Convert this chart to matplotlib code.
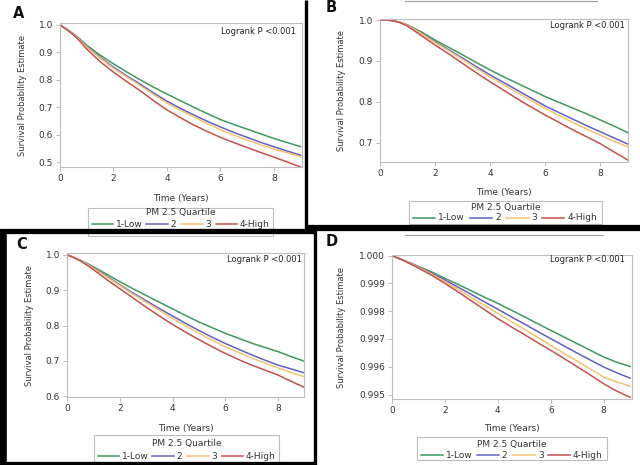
import matplotlib
matplotlib.use("Agg")
import matplotlib.pyplot as plt
from matplotlib.lines import Line2D
from matplotlib.patches import Rectangle

W, H = 640, 465

# ---------------- data ----------------
times = [0, 0.25, 0.5, 0.75, 1, 1.5, 2, 2.5, 3, 3.5, 4, 4.5, 5, 5.5, 6, 6.5, 7, 7.5, 8, 8.5, 9]
groups = ["1-Low", "2", "3", "4-High"]
colors = ["#3c9a5f", "#6060c4", "#f2c26e", "#c8504d"]

A_low = [1.0, 0.985, 0.968, 0.948, 0.926, 0.89, 0.858, 0.828, 0.80, 0.773, 0.748, 0.724, 0.70, 0.677, 0.655, 0.637, 0.62, 0.603, 0.586, 0.571, 0.556]
A_q2 = [1.0, 0.984, 0.966, 0.945, 0.922, 0.882, 0.846, 0.814, 0.784, 0.752, 0.722, 0.696, 0.672, 0.649, 0.628, 0.608, 0.59, 0.572, 0.556, 0.54, 0.525]
A_q3 = [1.0, 0.984, 0.966, 0.944, 0.92, 0.879, 0.842, 0.81, 0.779, 0.746, 0.715, 0.689, 0.665, 0.641, 0.618, 0.598, 0.58, 0.563, 0.548, 0.534, 0.52]
A_high = [1.0, 0.983, 0.964, 0.94, 0.912, 0.866, 0.828, 0.793, 0.76, 0.724, 0.69, 0.662, 0.635, 0.612, 0.59, 0.571, 0.553, 0.535, 0.518, 0.5, 0.482]

B_low = [1.0, 1.0, 0.998, 0.994, 0.988, 0.971, 0.951, 0.933, 0.915, 0.896, 0.878, 0.861, 0.845, 0.829, 0.813, 0.799, 0.785, 0.771, 0.756, 0.741, 0.725]
B_q2 = [1.0, 1.0, 0.998, 0.994, 0.987, 0.968, 0.947, 0.927, 0.907, 0.886, 0.866, 0.847, 0.828, 0.809, 0.79, 0.774, 0.758, 0.742, 0.727, 0.712, 0.697]
B_q3 = [1.0, 1.0, 0.998, 0.994, 0.987, 0.967, 0.945, 0.925, 0.904, 0.882, 0.861, 0.841, 0.822, 0.803, 0.784, 0.767, 0.75, 0.734, 0.719, 0.704, 0.69]
B_high = [1.0, 1.0, 0.998, 0.993, 0.985, 0.962, 0.939, 0.917, 0.894, 0.871, 0.849, 0.828, 0.807, 0.787, 0.768, 0.75, 0.732, 0.715, 0.698, 0.678, 0.658]

C_low = [1.0, 0.993, 0.985, 0.976, 0.966, 0.945, 0.924, 0.904, 0.885, 0.866, 0.847, 0.828, 0.81, 0.794, 0.778, 0.764, 0.75, 0.738, 0.726, 0.712, 0.699]
C_q2 = [1.0, 0.993, 0.984, 0.974, 0.963, 0.94, 0.915, 0.892, 0.87, 0.848, 0.827, 0.806, 0.786, 0.767, 0.749, 0.733, 0.717, 0.702, 0.688, 0.677, 0.666]
C_q3 = [1.0, 0.993, 0.984, 0.974, 0.962, 0.938, 0.913, 0.889, 0.866, 0.843, 0.82, 0.799, 0.778, 0.759, 0.74, 0.724, 0.708, 0.694, 0.68, 0.667, 0.655]
C_high = [1.0, 0.992, 0.983, 0.971, 0.958, 0.93, 0.904, 0.878, 0.852, 0.827, 0.803, 0.781, 0.76, 0.74, 0.721, 0.704, 0.688, 0.674, 0.66, 0.642, 0.625]

D_low = [1.0, 0.9999, 0.99981, 0.99971, 0.99961, 0.99941, 0.99918, 0.99896, 0.99873, 0.9985, 0.99828, 0.99804, 0.9978, 0.99755, 0.99731, 0.99707, 0.99683, 0.99659, 0.99635, 0.99616, 0.99601]
D_q2 = [1.0, 0.9999, 0.9998, 0.9997, 0.99959, 0.99936, 0.99912, 0.99886, 0.9986, 0.99833, 0.99807, 0.9978, 0.99754, 0.99727, 0.99701, 0.99675, 0.99649, 0.99624, 0.99599, 0.99578, 0.99559]
D_q3 = [1.0, 0.9999, 0.9998, 0.99969, 0.99958, 0.99933, 0.99906, 0.99878, 0.99849, 0.9982, 0.99792, 0.99763, 0.99735, 0.99706, 0.99677, 0.99648, 0.9962, 0.99591, 0.99563, 0.99545, 0.9953]
D_high = [1.0, 0.9999, 0.99979, 0.99967, 0.99955, 0.99929, 0.999, 0.99869, 0.99837, 0.99805, 0.99773, 0.99744, 0.99716, 0.99687, 0.99659, 0.9963, 0.996, 0.9957, 0.99539, 0.99512, 0.9949]

x_ticks = [0, 2, 4, 6, 8]
A_yticks = [0.5, 0.6, 0.7, 0.8, 0.9, 1.0]
B_yticks = [0.7, 0.8, 0.9, 1.0]
C_yticks = [0.6, 0.7, 0.8, 0.9, 1.0]
D_yticks = [0.995, 0.996, 0.997, 0.998, 0.999, 1.000]

# ---------------- layout helpers ----------------
fig = plt.figure(figsize=(W / 100, H / 100), dpi=100)
fig.patch.set_facecolor("white")

def fx(px):
    return px / W

def fy(py):
    return 1 - py / H

def rect(l, t, r, b):
    return [l / W, 1 - b / H, (r - l) / W, (b - t) / H]

FRAME = "#bdbdbd"
TXT = "#333333"

def panel(letter, box, ylim, xlim, yticks, yfmt, series, letter_xy, ylab_x,
          xlab_y, logrank_xy, legend_box):
    l, t, r, b = box
    ax = fig.add_axes(rect(l, t, r, b))
    for s, c in zip(series, colors):
        ax.plot(times, s, color=c, lw=1.1, solid_joinstyle="round")
    ax.set_xlim(*xlim)
    ax.set_ylim(*ylim)
    ax.set_xticks(x_ticks)
    ax.set_xticklabels([str(v) for v in x_ticks])
    ax.set_yticks(yticks)
    ax.set_yticklabels([yfmt.format(v) for v in yticks])
    for sp in ax.spines.values():
        sp.set_color(FRAME)
        sp.set_linewidth(0.8)
    ax.tick_params(axis="both", labelsize=6.5, colors=FRAME, labelcolor=TXT,
                   length=3, width=0.7, pad=2)
    fig.text(fx(letter_xy[0]), fy(letter_xy[1]), letter, fontsize=10.5,
             fontweight="bold", ha="left", va="center", color="#111111")
    fig.text(fx(ylab_x), fy((t + b) / 2), "Survival Probability Estimate",
             rotation=90, fontsize=6, ha="center", va="center", color=TXT)
    fig.text(fx((l + r) / 2), fy(xlab_y), "Time (Years)", fontsize=6.5,
             ha="center", va="center", color=TXT)
    fig.text(fx(logrank_xy[0]), fy(logrank_xy[1]), "Logrank P <0.001",
             fontsize=6, ha="right", va="center", color="#222222")
    bl, bt, br, bb, title_y, entry_y = legend_box
    fig.add_artist(Rectangle((fx(bl), fy(bb)), (br - bl) / W, (bb - bt) / H,
                             transform=fig.transFigure, facecolor="white",
                             edgecolor=FRAME, lw=0.8, zorder=5))
    fig.text(fx((bl + br) / 2), fy(title_y), "PM 2.5 Quartile", fontsize=6.5,
             ha="center", va="center", color=TXT, zorder=6)
    wdt = br - bl
    starts = [0.02, 0.315, 0.505, 0.69]
    for st, g, c in zip(starts, groups, colors):
        x0 = bl + st * wdt
        x1 = x0 + 0.115 * wdt
        fig.add_artist(Line2D([fx(x0), fx(x1)], [fy(entry_y), fy(entry_y)],
                              transform=fig.transFigure, color=c, lw=1.1,
                              zorder=6))
        fig.text(fx(x1 + 3), fy(entry_y), g, fontsize=6.5, ha="left",
                 va="center", color=TXT, zorder=6)
    return ax

panel("A", (60, 23, 302, 167), (0.482, 1.007), (0, 9.05), A_yticks, "{:.1f}",
      [A_low, A_q2, A_q3, A_high], (13, 13), 23, 198, (296, 32),
      (88, 208, 273, 236, 213, 224))

panel("B", (380, 19, 628, 162), (0.6535, 1.0025), (0, 9.0), B_yticks, "{:.1f}",
      [B_low, B_q2, B_q3, B_high], (326, 8), 341, 192, (625, 25),
      (409, 201, 602, 224, 207, 218))

panel("C", (67, 253, 304, 397), (0.598, 1.005), (0, 8.98), C_yticks, "{:.1f}",
      [C_low, C_q2, C_q3, C_high], (16, 244), 30, 428, (302, 260),
      (94, 435, 279, 468, 443, 456))

panel("D", (392, 255, 632, 399), (0.99484, 1.00002), (0, 9.07), D_yticks, "{:.3f}",
      [D_low, D_q2, D_q3, D_high], (326, 242), 341, 428, (625, 260),
      (417, 437, 607, 460, 444, 455))

# ---------------- black panel borders ----------------
def hline(x0, x1, y, lw):
    fig.add_artist(Line2D([fx(x0), fx(x1)], [fy(y), fy(y)], transform=fig.transFigure,
                          color="black", lw=lw, zorder=20, solid_capstyle="butt"))

def vline(x, y0, y1, lw):
    fig.add_artist(Line2D([fx(x), fx(x)], [fy(y0), fy(y1)], transform=fig.transFigure,
                          color="black", lw=lw, zorder=20, solid_capstyle="butt"))

def grey_line(x0, x1, y):
    fig.add_artist(Line2D([fx(x0), fx(x1)], [fy(y), fy(y)], transform=fig.transFigure,
                          color="#9a9a9a", lw=0.8, zorder=4))

grey_line(405, 597, 0.8)
grey_line(405, 603, 235.5)

vline(306, 0, 230, 2.4)
hline(306, 640, 228, 4.5)
hline(0, 316, 231, 3.8)
vline(3, 229, 465, 5.5)
vline(314.5, 229, 465, 2.4)
hline(0, 316, 463.5, 3.8)

fig.savefig("out.png", dpi=100, facecolor="white")
